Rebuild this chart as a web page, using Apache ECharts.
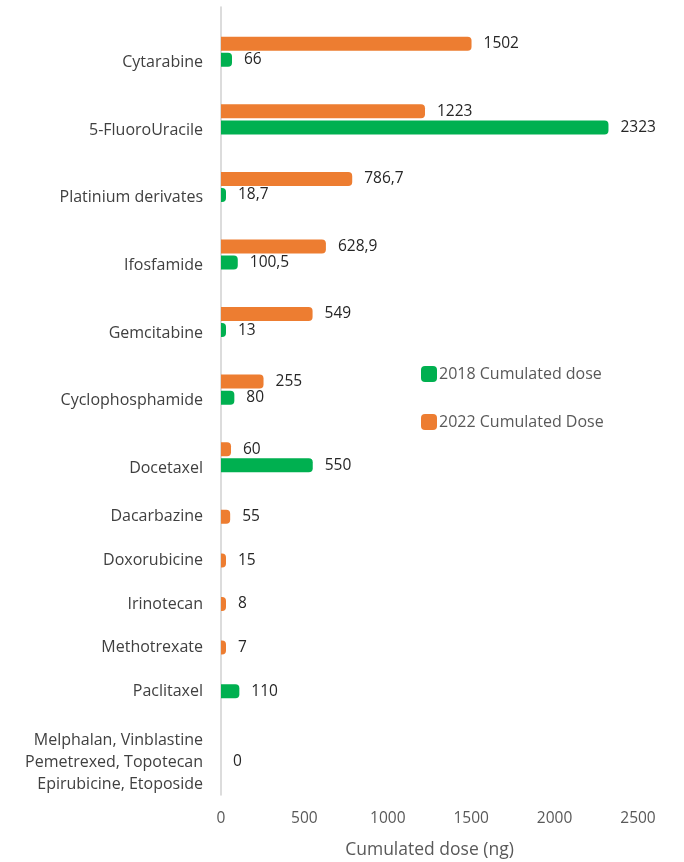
<!DOCTYPE html>
<html>
<head>
<meta charset="utf-8">
<script src="https://cdn.jsdelivr.net/npm/echarts@6/dist/echarts.min.js"></script>
<style>
  html, body { margin: 0; padding: 0; background: #ffffff; }
  #chart { width: 684px; height: 862px; }
</style>
</head>
<body>
<div id="chart"></div>
<script>
// ---- Data ----
const categories = [
  'Cytarabine',
  '5-FluoroUracile',
  'Platinium derivates',
  'Ifosfamide',
  'Gemcitabine',
  'Cyclophosphamide',
  'Docetaxel',
  'Dacarbazine',
  'Doxorubicine',
  'Irinotecan',
  'Methotrexate',
  'Paclitaxel',
  'Melphalan, Vinblastine\nPemetrexed, Topotecan\nEpirubicine, Etoposide'
];
const dose2018 = [66, 2323, 18.7, 100.5, 13, 80, 550, null, null, null, null, 110, 0];
const dose2022 = [1502, 1223, 786.7, 628.9, 549, 255, 60, 55, 15, 8, 7, null, null];
const xTickValues = [0, 500, 1000, 1500, 2000, 2500];
const seriesNames = ['2018 Cumulated dose', '2022 Cumulated Dose'];
const xAxisTitle = 'Cumulated dose (ng)';

// ---- Layout / styling ----
const FONT = 'Open Sans';
const GREEN = '#00B050';
const ORANGE = '#ED7D31';
const xMin = xTickValues[0];
const xMax = xTickValues[xTickValues.length - 1];
const xInterval = xTickValues[1] - xTickValues[0];

// category groups drawn in separate bands (start index, end index exclusive)
const groups = [
  { start: 0, end: 7, top: 18, bottom: 862 - 491, gap: '15%', vAlign: 'top', minLen: 5 },
  { start: 7, end: 12, top: 495, bottom: 862 - 713, gap: '-100%', vAlign: 'middle', minLen: 5 },
  { start: 12, end: 13, top: 727, bottom: 65, gap: '-100%', vAlign: 'middle', minLen: 0 }
];

const grids = [];
const xAxes = [];
const yAxes = [];
const series = [];

const fmt = p => String(p.value).replace('.', ',');

groups.forEach((g, i) => {
  grids.push({ left: 221, right: 46, top: g.top, bottom: g.bottom, outerBoundsMode: 'none' });
  xAxes.push({ type: 'value', gridIndex: i, min: xMin, max: xMax, interval: xInterval, show: false });
  yAxes.push({
    type: 'category', gridIndex: i, inverse: true,
    data: categories.slice(g.start, g.end),
    axisLine: { show: false }, axisTick: { show: false }, splitLine: { show: false },
    axisLabel: {
      interval: 0, margin: 18, color: '#404040', fontSize: 16, fontFamily: FONT,
      lineHeight: 22, align: 'right', verticalAlign: g.vAlign
    }
  });
  const mk = (name, arr, color) => ({
    type: 'bar', name: name, xAxisIndex: i, yAxisIndex: i,
    data: arr.slice(g.start, g.end),
    barWidth: 14, barGap: g.gap, barMinHeight: g.minLen,
    itemStyle: { color: color, borderRadius: [0, 4, 4, 0] },
    label: {
      show: true, position: 'right', distance: 12, formatter: fmt,
      color: '#262626', fontSize: 15.5, fontFamily: FONT
    }
  });
  series.push(mk(seriesNames[1], dose2022, ORANGE));
  series.push(mk(seriesNames[0], dose2018, GREEN));
});

// frame grid: carries the vertical axis line and the value axis labels
grids.push({ left: 221, right: 46, top: 7, bottom: 67, outerBoundsMode: 'none' });
xAxes.push({
  type: 'value', gridIndex: 3, min: xMin, max: xMax, interval: xInterval,
  axisLine: { show: false }, axisTick: { show: false }, splitLine: { show: false },
  axisLabel: { margin: 16, color: '#595959', fontSize: 15.5, fontFamily: FONT, formatter: v => String(v) },
  name: xAxisTitle, nameLocation: 'middle', nameGap: 46,
  nameTextStyle: { color: '#595959', fontSize: 17.5, fontFamily: FONT }
});
yAxes.push({
  type: 'value', gridIndex: 3, min: 0, max: 1,
  axisLine: { show: true, lineStyle: { color: '#d0d0d0', width: 1.5 } },
  axisTick: { show: false }, axisLabel: { show: false }, splitLine: { show: false }
});

const chart = echarts.init(document.getElementById('chart'));
chart.setOption({
  animation: false,
  backgroundColor: '#ffffff',
  grid: grids,
  xAxis: xAxes,
  yAxis: yAxes,
  legend: {
    orient: 'vertical', left: 421, top: 366, padding: 0,
    itemWidth: 16, itemHeight: 16, itemGap: 32,
    icon: 'roundRect',
    data: seriesNames,
    textStyle: { color: '#595959', fontSize: 16, fontFamily: FONT, padding: [0, 0, 0, -3] }
  },
  series: series
});
</script>
</body>
</html>
